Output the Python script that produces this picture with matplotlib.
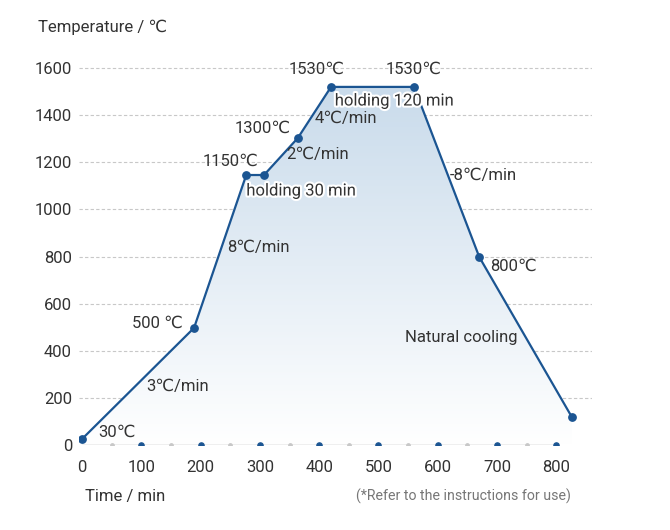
import numpy as np
import matplotlib.pyplot as plt
import matplotlib.patheffects as pe
from matplotlib.patches import Polygon
from matplotlib.colors import LinearSegmentedColormap

plt.rcParams['font.family'] = ['Roboto', 'DejaVu Sans']

# process curve (time in min, temperature in C)
times = [0, 189, 277, 307, 364, 420, 560, 670, 826]
temps = [25, 497, 1146, 1146, 1303, 1520, 1520, 798, 119]

x_ticks = [0, 100, 200, 300, 400, 500, 600, 700, 800]
y_ticks = [0, 200, 400, 600, 800, 1000, 1200, 1400, 1600]

# annotation texts: (text, x, y, ha)
labels = [
    ("30℃", 27, 55, "left"),
    ("3℃/min", 162, 250, "center"),
    ("500 ℃", 170, 518, "right"),
    ("8℃/min", 297, 840, "center"),
    ("1150℃", 250, 1205, "center"),
    ("1300℃", 304, 1345, "center"),
    ("2℃/min", 398, 1235, "center"),
    ("4℃/min", 445, 1384, "center"),
    ("1530℃", 396, 1596, "center"),
    ("1530℃", 560, 1596, "center"),
    ("-8℃/min", 676, 1146, "center"),
    ("800℃", 728, 760, "center"),
    ("Natural cooling", 639, 458, "center"),
]
halo_labels = [
    ("holding 30 min", 369, 1078),
    ("holding 120 min", 526, 1460),
]

line_color = "#1b5592"
text_color = "#333333"
fs = 12

fig = plt.figure(figsize=(6.7, 5.3), dpi=100)
ax = fig.add_axes([0.1179, 0.1604, 0.7656, 0.7334])
ax.set_xlim(-5, 860)
ax.set_ylim(0, 1650)

# gradient fill under the curve
poly_pts = [(times[0], 0)] + list(zip(times, temps)) + [(times[-1], 0)]
poly = Polygon(poly_pts, closed=True, facecolor="none", edgecolor="none")
ax.add_patch(poly)
grad = np.linspace(0, 1, 256).reshape(-1, 1)
cmap = LinearSegmentedColormap.from_list("g", ["#ffffff", "#c9dbeb"])
im = ax.imshow(grad, cmap=cmap, aspect="auto", origin="lower",
               extent=[0, max(times), 0, max(temps)], zorder=1)
im.set_clip_path(poly)

# grid
for yv in y_ticks[1:]:
    ax.axhline(yv, color="#c8c8c8", lw=0.8, ls=(0, (3, 2)), zorder=0)

# baseline with dots
ax.plot([0, 800], [0, 0], color="#b0b0b0", lw=1, zorder=2)
ax.scatter(x_ticks[1:], [0] * 8, s=14, color=line_color, zorder=3)
ax.scatter([50 + 100 * i for i in range(8)], [0] * 8, s=6, color="#c8c8c8", zorder=3)

# curve
ax.plot(times, temps, color=line_color, lw=1.6, zorder=4)
ax.scatter(times, temps, s=28, color=line_color, zorder=5)

for txt, x, y, ha in labels:
    ax.text(x, y, txt, ha=ha, va="center", fontsize=fs, color=text_color, zorder=6)
for txt, x, y in halo_labels:
    ax.text(x, y, txt, ha="center", va="center", fontsize=fs, color=text_color, zorder=6,
            path_effects=[pe.withStroke(linewidth=3, foreground="white")])

ax.set_xticks(x_ticks)
ax.set_yticks(y_ticks)
ax.tick_params(length=0, labelsize=fs, labelcolor=text_color)
ax.tick_params(axis="x", pad=11)
ax.tick_params(axis="y", pad=5)
for s in ax.spines.values():
    s.set_visible(False)

fig.text(38 / 670, 1 - 27 / 530, "Temperature / ℃", ha="left", va="center",
         fontsize=fs, color=text_color)
fig.text(125 / 670, 1 - 496 / 530, "Time / min", ha="center", va="center",
         fontsize=fs, color=text_color)
fig.text(463 / 670, 1 - 496 / 530, "(*Refer to the instructions for use)", ha="center",
         va="center", fontsize=10.2, color="#777777")

fig.savefig("out.png", dpi=100)
